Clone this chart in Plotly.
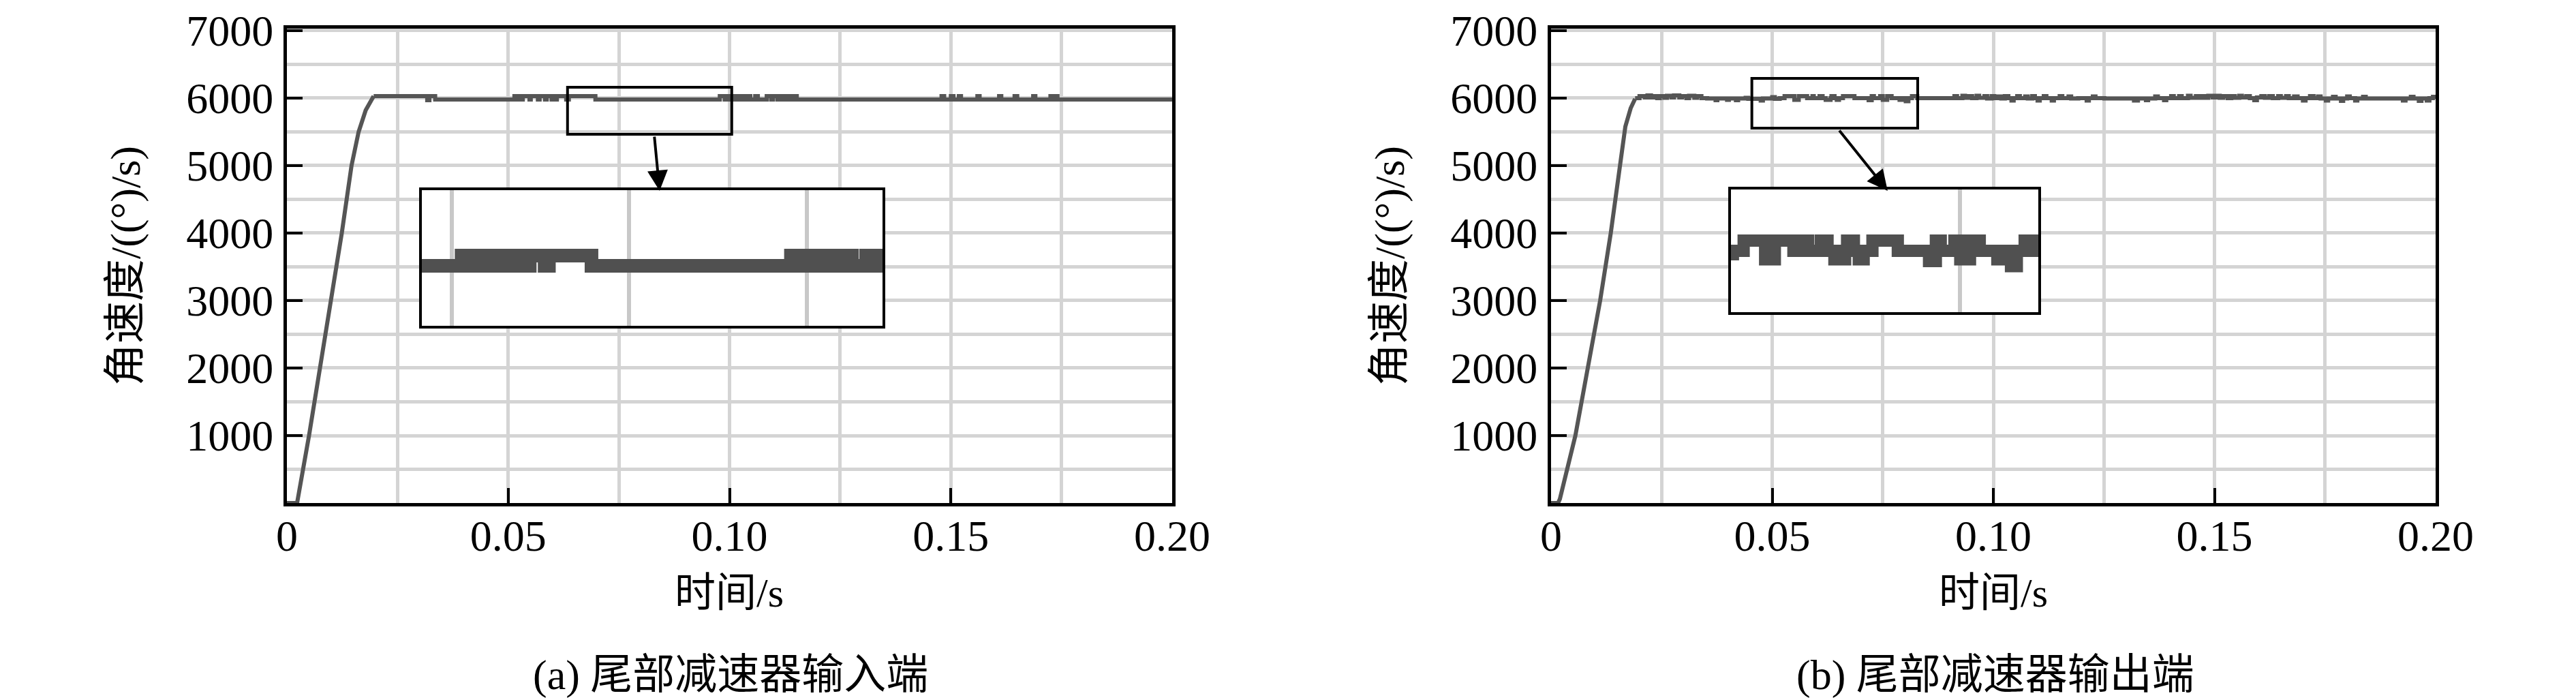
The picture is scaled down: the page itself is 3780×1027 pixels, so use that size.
import plotly.graph_objects as go

# ---------------- data ----------------
x_tick_vals = [0, 0.05, 0.10, 0.15, 0.20]
x_tick_text = ["0", "0.05", "0.10", "0.15", "0.20"]
y_tick_vals = [1000, 2000, 3000, 4000, 5000, 6000, 7000]
y_tick_text = ["1000", "2000", "3000", "4000", "5000", "6000", "7000"]

# (a) tail reducer input end: start-up ramp
ramp_a_t = [0.0, 0.0018, 0.0023, 0.0050, 0.0075, 0.0100, 0.0124, 0.0146, 0.0162, 0.0178, 0.0196]
ramp_a_w = [0, 0, 0, 1000, 2000, 3000, 4000, 5000, 5500, 5820, 6030]
# (a) steady state (step changes: time, level)
steady_a_t = [0.0196, 0.0317, 0.0322, 0.0335,
              0.0514, 0.0522, 0.0525, 0.0530, 0.0533, 0.0548, 0.0551, 0.0567, 0.0571,
              0.0583, 0.0587, 0.0598, 0.0602, 0.0606, 0.0610, 0.0631, 0.0637, 0.0697,
              0.0978, 0.0989, 0.0996, 0.1004, 0.1009, 0.1017, 0.1024, 0.1032, 0.1041,
              0.1047, 0.1058, 0.1064, 0.1084, 0.1094, 0.1098, 0.1108, 0.1114, 0.1122,
              0.1130, 0.1137, 0.1146, 0.1152,
              0.1479, 0.1485, 0.1500, 0.1506, 0.1518, 0.1523, 0.1560, 0.1565, 0.1609,
              0.1614, 0.1644, 0.1650, 0.1686, 0.1691, 0.1725, 0.1732, 0.1737, 0.1741,
              0.2000]
steady_a_w = [6030, 5970, 6030, 5980,
              6030, 5980, 6030, 5980, 6030, 5980, 6030, 5980, 6030,
              5980, 6030, 5980, 6030, 5980, 6030, 5980, 6030, 5980,
              6030, 5980, 6030, 5980, 6030, 5980, 6030, 5980, 6030,
              5980, 6030, 5980, 6030, 5980, 6030, 5980, 6030, 5980,
              6030, 5980, 6030, 5980,
              6030, 5980, 6030, 5980, 6030, 5980, 6030, 5980, 6030,
              5980, 6030, 5980, 6030, 5980, 6030, 5980, 6030, 5980,
              5980]

# (b) tail reducer output end: start-up ramp
ramp_b_t = [0.0, 0.0016, 0.0020, 0.0055, 0.0083, 0.0111, 0.0135, 0.0157, 0.0168, 0.0180, 0.0190]
ramp_b_w = [0, 0, 60, 1000, 2000, 3000, 4000, 5000, 5580, 5850, 5990]
# (b) steady state (step changes: time, level)
steady_b_t = [0.0190, 0.0200, 0.0212, 0.0218, 0.0226, 0.0232, 0.0240, 0.0246, 0.0256, 0.0262,
              0.0272, 0.0278, 0.0290, 0.0296, 0.0306, 0.0312, 0.0324, 0.0330, 0.0340, 0.0353,
              0.0372, 0.0376, 0.0398, 0.0402, 0.0418, 0.0423, 0.0440, 0.0446, 0.0474, 0.0479,
              0.0500, 0.0506, 0.0517, 0.0528, 0.0550, 0.0560, 0.0579, 0.0591, 0.0594, 0.0607,
              0.0614, 0.0621, 0.0632, 0.0634, 0.0641, 0.0646, 0.0651, 0.0660, 0.0686, 0.0718,
              0.0725, 0.0730, 0.0744, 0.0750, 0.0760, 0.0770, 0.0788, 0.0795, 0.0802, 0.0808,
              0.0816, 0.0828, 0.0912, 0.0918, 0.0930, 0.0936, 0.0945, 0.0952, 0.0962, 0.0968,
              0.0980, 0.0986, 0.0996, 0.1002, 0.1010, 0.1018, 0.1026, 0.1034, 0.1041, 0.1046,
              0.1054, 0.1060, 0.1072, 0.1078, 0.1088, 0.1094, 0.1100, 0.1105, 0.1114, 0.1120,
              0.1132, 0.1137, 0.1150, 0.1156, 0.1170, 0.1176, 0.1192, 0.1211, 0.1216, 0.1225,
              0.1231, 0.1251, 0.1318, 0.1327, 0.1345, 0.1350, 0.1366, 0.1372, 0.1386, 0.1391,
              0.1402, 0.1408, 0.1420, 0.1426, 0.1440, 0.1446, 0.1458, 0.1464, 0.1471, 0.1480,
              0.1486, 0.1496, 0.1504, 0.1512, 0.1520, 0.1530, 0.1538, 0.1546, 0.1556, 0.1562,
              0.1572, 0.1580, 0.1590, 0.1596, 0.1606, 0.1614, 0.1624, 0.1632, 0.1644, 0.1650,
              0.1662, 0.1668, 0.1680, 0.1688, 0.1700, 0.1706, 0.1716, 0.1724, 0.1734, 0.1740,
              0.1752, 0.1757, 0.1768, 0.1774, 0.1786, 0.1791, 0.1800, 0.1806, 0.1818, 0.1823,
              0.1836, 0.1842, 0.1926, 0.1932, 0.1944, 0.1950, 0.1962, 0.1968, 0.1980, 0.1986,
              0.1994, 0.2000]
steady_b_w = [6000, 6030, 6010, 6040, 6010, 6030, 6000, 6030, 6005, 6035,
              6010, 6040, 6010, 6030, 6000, 6035, 6005, 6030, 6000, 5995,
              5970, 5995, 5975, 5995, 5970, 5995, 6005, 5990, 5965, 5995,
              6015, 5990, 6000, 6030, 5975, 6030, 6000, 6030, 6000, 6030,
              6000, 5975, 6000, 6030, 6000, 5975, 6000, 6030, 6000, 5970,
              6030, 6000, 6030, 5975, 6030, 6000, 5975, 6000, 5955, 6000,
              6030, 6000, 6030, 6000, 6035, 6005, 6030, 6000, 6035, 6005,
              6030, 5995, 6030, 6000, 6025, 5995, 6030, 6000, 5965, 6000,
              6030, 6000, 6025, 5995, 6030, 6000, 5965, 6000, 6030, 6000,
              5965, 6000, 6030, 6000, 6025, 5995, 6000, 5965, 6000, 6025,
              6000, 5995, 5965, 5995, 5970, 5995, 6025, 6000, 5970, 6000,
              6030, 6000, 6030, 6000, 6035, 6005, 6030, 6005, 6030, 6005,
              6035, 6010, 6035, 6005, 6030, 6000, 6030, 6005, 6035, 6010,
              6030, 6000, 5970, 6010, 6030, 6005, 6030, 6000, 6030, 6005,
              6030, 6000, 6025, 6000, 5965, 6000, 6030, 6000, 6025, 5995,
              5965, 5995, 6020, 5995, 5960, 5995, 6025, 6000, 5965, 5995,
              6020, 5995, 5965, 5995, 6020, 5995, 5960, 5995, 5965, 6000,
              6020, 6000]

# zoom windows (small boxes on the main plots) and inset views
box_a_x = [0.0634, 0.1005]
box_a_y = [5465, 6162]
box_b_x = [0.0454, 0.0829]
box_b_y = [5556, 6293]
inset_a_x = [0.0458, 0.1107]
inset_a_y = [5687, 6350]
inset_b_x = [0.0515, 0.0830]
inset_b_y = [5820, 6180]

# arrows: tail -> tip (data coords of main axes)
arrow_a = [(0.0830, 5444), (0.0842, 4626)]
arrow_b = [(0.0650, 5535), (0.0761, 4626)]

y_title = "角速度/((°)/s)"
x_title = "时间/s"
captions = ["(a) 尾部减速器输入端", "(b) 尾部减速器输出端"]

# ---------------- figure ----------------
W, H = 3780, 1027
FONT = "Liberation Serif, Noto Sans CJK SC"
LINE = "#555555"
GRID = "#d4d4d4"


def fx(px):
    return px / W


def fy(py):
    return 1 - py / H


fig = go.Figure()

for ramp_t, ramp_w, st_t, st_w, xa, ya in [
    (ramp_a_t, ramp_a_w, steady_a_t, steady_a_w, "x", "y"),
    (ramp_b_t, ramp_b_w, steady_b_t, steady_b_w, "x2", "y2"),
]:
    fig.add_trace(go.Scatter(x=ramp_t, y=ramp_w, mode="lines", xaxis=xa, yaxis=ya,
                             line=dict(color=LINE, width=6), showlegend=False))
    fig.add_trace(go.Scatter(x=st_t, y=st_w, mode="lines", xaxis=xa, yaxis=ya,
                             line=dict(color=LINE, width=6, shape="hv"), showlegend=False))

# insets
fig.add_trace(go.Scatter(x=steady_a_t, y=steady_a_w, mode="lines", xaxis="x3", yaxis="y3",
                         line=dict(color="#505050", width=20, shape="hv"), showlegend=False))
fig.add_trace(go.Scatter(x=steady_b_t, y=steady_b_w, mode="lines", xaxis="x4", yaxis="y4",
                         line=dict(color="#505050", width=18, shape="hv"), showlegend=False))

main_x = dict(range=[0, 0.2], tickvals=x_tick_vals, ticktext=x_tick_text,
              ticks="inside", ticklen=22, tickwidth=4, tickcolor="black",
              showgrid=True, gridcolor=GRID, gridwidth=5,
              minor=dict(dtick=0.025, tick0=0, showgrid=True, gridcolor=GRID, gridwidth=5, ticks=""),
              showline=True, mirror=True, linewidth=5, linecolor="black",
              zeroline=False, tickfont=dict(family=FONT, size=64, color="black"),
              ticklabelstandoff=-12, automargin=False)
main_y = dict(range=[0, 7030], tickvals=y_tick_vals, ticktext=y_tick_text,
              ticks="inside", ticklen=23, tickwidth=4, tickcolor="black",
              showgrid=True, gridcolor=GRID, gridwidth=5,
              minor=dict(dtick=500, tick0=0, showgrid=True, gridcolor=GRID, gridwidth=5, ticks=""),
              showline=True, mirror=True, linewidth=5, linecolor="black",
              zeroline=False, tickfont=dict(family=FONT, size=64, color="black"),
              ticklabelstandoff=2, automargin=False)
inset_common = dict(showticklabels=False, ticks="", zeroline=False, automargin=False,
                    showline=True, mirror=True, linewidth=4, linecolor="black")

ydom = [fy(730), fy(34)]
fig.update_layout(
    template="none",
    xaxis=dict(domain=[fx(413), fx(1712)], anchor="y", **main_x),
    yaxis=dict(domain=ydom, anchor="x", **main_y),
    xaxis2=dict(domain=[fx(2268), fx(3566)], anchor="y2", **main_x),
    yaxis2=dict(domain=ydom, anchor="x2", **main_y),
    xaxis3=dict(domain=[fx(611), fx(1287)], anchor="y3", range=inset_a_x,
                showgrid=True, dtick=0.025, tick0=0, gridcolor="#c8c8c8", gridwidth=6,
                **inset_common),
    yaxis3=dict(domain=[fy(470), fy(271)], anchor="x3", range=inset_a_y,
                showgrid=False, **inset_common),
    xaxis4=dict(domain=[fx(2532), fx(2983)], anchor="y4", range=inset_b_x,
                showgrid=True, dtick=0.025, tick0=0, gridcolor="#c8c8c8", gridwidth=6,
                **inset_common),
    yaxis4=dict(domain=[fy(450), fy(270)], anchor="x4", range=inset_b_y,
                showgrid=False, **inset_common),
    width=W, height=H,
    margin=dict(l=0, r=0, t=0, b=0, pad=0, autoexpand=False),
    paper_bgcolor="white", plot_bgcolor="white",
    font=dict(family=FONT, color="black"),
    showlegend=False,
)

# small zoom boxes
for bx, by, xr, yr in [(box_a_x, box_a_y, "x", "y"), (box_b_x, box_b_y, "x2", "y2")]:
    fig.add_shape(type="rect", xref=xr, yref=yr, x0=bx[0], x1=bx[1], y0=by[0], y1=by[1],
                  line=dict(color="black", width=4), fillcolor="rgba(0,0,0,0)", layer="above")

# arrows
for arr, xr, yr in [(arrow_a, "x", "y"), (arrow_b, "x2", "y2")]:
    (tx, ty), (hx, hy) = arr
    fig.add_annotation(x=hx, y=hy, xref=xr, yref=yr, ax=tx, ay=ty, axref=xr, ayref=yr,
                       text="", showarrow=True, arrowhead=2, arrowsize=1.5, arrowwidth=4,
                       arrowcolor="black", standoff=0, startstandoff=0)

# titles and captions
for cx_axis, cx_title in [(176, 1062), (2031, 2917)]:
    fig.add_annotation(x=fx(cx_axis), y=fy(382), xref="paper", yref="paper",
                       text=y_title, textangle=-90, showarrow=False,
                       font=dict(family=FONT, size=62, color="black"),
                       xanchor="center", yanchor="middle")
    fig.add_annotation(x=fx(cx_title), y=fy(862), xref="paper", yref="paper",
                       text=x_title, showarrow=False,
                       font=dict(family=FONT, size=60, color="black"),
                       xanchor="center", yanchor="middle")
for cx, cap in zip([1064, 2920], captions):
    fig.add_annotation(x=fx(cx), y=fy(982), xref="paper", yref="paper",
                       text=cap, showarrow=False,
                       font=dict(family=FONT, size=62, color="black"),
                       xanchor="center", yanchor="middle")

fig.write_html("out.html")
